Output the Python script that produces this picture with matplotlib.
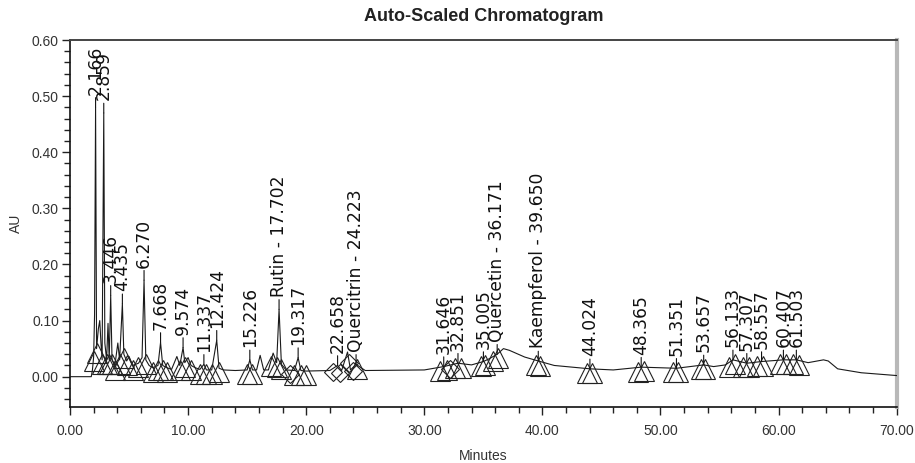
import numpy as np
import matplotlib
matplotlib.use("Agg")
import matplotlib.pyplot as plt
from matplotlib.transforms import offset_copy

# ---- data ----
trace_t = [0.0, 1.80, 1.90, 2.00, 2.08, 2.166, 2.25, 2.40, 2.52, 2.62, 2.72, 2.859, 2.95, 3.10,
           3.22, 3.32, 3.446, 3.56, 3.80, 4.05, 4.20, 4.435, 4.56, 4.80, 5.00, 5.30, 5.80,
           6.10, 6.270, 6.42, 6.70, 7.00, 7.45, 7.668, 7.85, 8.20, 8.60, 9.05, 9.30, 9.574,
           9.72, 10.00, 10.25, 10.60, 11.00, 11.337, 11.55, 12.00, 12.424, 12.62, 13.00,
           14.00, 15.00, 15.226, 15.45, 15.80, 16.10, 16.40, 16.80, 17.20, 17.50, 17.702,
           17.90, 18.30, 19.00, 19.317, 19.55, 20.00, 22.00, 22.658, 23.00, 23.50, 23.75,
           24.223, 25.00, 30.00, 31.646, 32.851, 34.00, 35.005, 35.50, 36.171, 36.70,
           37.20, 38.50, 39.650, 41.00, 44.024, 46.00, 48.365, 51.351, 53.657, 54.50,
           55.50, 56.133, 57.307, 58.557, 60.407, 61.503, 62.50, 63.80, 64.20, 65.00,
           67.00, 70.00]
trace_au = [0.000, 0.000, 0.012, 0.035, 0.110, 0.480, 0.050, 0.085, 0.100, 0.060, 0.030, 0.470, 0.060, 0.030,
            0.095, 0.030, 0.145, 0.030, 0.020, 0.060, 0.030, 0.130, 0.040, 0.028, 0.036, 0.020, 0.024,
            0.034, 0.172, 0.030, 0.020, 0.016, 0.020, 0.061, 0.020, 0.016, 0.013, 0.036, 0.020, 0.052,
            0.025, 0.034, 0.020, 0.016, 0.013, 0.022, 0.012, 0.012, 0.065, 0.015, 0.012,
            0.011, 0.012, 0.030, 0.012, 0.012, 0.038, 0.012, 0.012, 0.042, 0.025, 0.120,
            0.022, 0.012, 0.011, 0.034, 0.011, 0.010, 0.011, 0.020, 0.011, 0.044, 0.012,
            0.022, 0.011, 0.012, 0.018, 0.024, 0.021, 0.027, 0.032, 0.040, 0.050,
            0.047, 0.035, 0.028, 0.020, 0.014, 0.012, 0.017, 0.015, 0.021, 0.018,
            0.021, 0.030, 0.024, 0.027, 0.030, 0.030, 0.025, 0.030, 0.028, 0.014,
            0.007, 0.002]

peak_labels = ["2.166", "2.859", "3.446", "4.435", "6.270", "7.668", "9.574", "11.337",
               "12.424", "15.226", "Rutin - 17.702", "19.317", "22.658", "Quercitrin - 24.223",
               "31.646", "32.851", "35.005", "Quercetin - 36.171", "Kaempferol - 39.650",
               "44.024", "48.365", "51.351", "53.657", "56.133", "57.307", "58.557",
               "60.407", "61.503"]
peak_t = [2.166, 2.859, 3.446, 4.435, 6.270, 7.668, 9.574, 11.337, 12.424, 15.226, 17.702,
          19.317, 22.658, 24.223, 31.646, 32.851, 35.005, 36.171, 39.650, 44.024, 48.365,
          51.351, 53.657, 56.133, 57.307, 58.557, 60.407, 61.503]
peak_au = [0.480, 0.470, 0.145, 0.130, 0.172, 0.061, 0.052, 0.022, 0.065, 0.030, 0.120,
           0.034, 0.020, 0.022, 0.018, 0.024, 0.027, 0.040, 0.028, 0.014, 0.017,
           0.015, 0.021, 0.030, 0.024, 0.027, 0.030, 0.030]

tri_t = [2.00, 2.25, 2.72, 3.10, 3.32, 3.56, 3.80, 4.20, 4.56, 4.80, 5.30, 5.80, 6.42, 7.00,
         7.45, 7.85, 8.20, 9.30, 9.72, 10.25, 11.00, 11.55, 12.00, 12.62, 15.00, 15.45,
         17.00, 17.50, 17.90, 19.00, 19.55, 20.00, 24.30, 31.30, 31.90, 32.60, 33.10, 34.80,
         35.10, 35.80, 36.20, 39.50, 39.80, 43.80, 44.20, 48.10, 48.60, 51.10, 51.50, 53.40,
         53.80, 55.80, 56.30, 57.00, 57.50, 58.20, 58.70, 60.10, 60.60, 61.20, 61.70]
dia_t = [18.60, 22.30, 22.90, 23.60, 24.00, 32.20]

x_ticks = [0, 10, 20, 30, 40, 50, 60, 70]
x_ticklabels = ["0.00", "10.00", "20.00", "30.00", "40.00", "50.00", "60.00", "70.00"]
y_ticks = [0.0, 0.1, 0.2, 0.3, 0.4, 0.5, 0.6]
y_ticklabels = ["0.00", "0.10", "0.20", "0.30", "0.40", "0.50", "0.60"]

# ---- figure ----
fig = plt.figure(figsize=(9.15, 4.63), dpi=100)
ax = fig.add_axes([0.0765, 0.121, 0.9035, 0.7925])
tick_font = "Liberation Sans"

ax.plot(trace_t, trace_au, color="#1a1a1a", lw=0.8, zorder=3)

# start / end markers
tri_y = np.interp(tri_t, trace_t, trace_au)
dia_y = np.interp(dia_t, trace_t, trace_au)
mtrans = offset_copy(ax.transData, fig=fig, y=-3, units="points")
ax.plot(tri_t, tri_y, ls="none", marker="^", ms=14, mfc="none", mec="#222222",
        mew=0.8, transform=mtrans, zorder=4, clip_on=False)
ax.plot(dia_t, dia_y, ls="none", marker="D", ms=9, mfc="none", mec="#222222",
        mew=0.8, transform=mtrans, zorder=4, clip_on=False)

# peak labels
for lab, t, h in zip(peak_labels, peak_t, peak_au):
    ax.annotate(lab, xy=(t, h), xytext=(0, 9), textcoords="offset points",
                rotation=90, ha="center", va="bottom", fontsize=12.3,
                family="DejaVu Sans", color="#111111",
                arrowprops=dict(arrowstyle="-", lw=0.8, color="#111111",
                                shrinkA=0, shrinkB=0), zorder=5)

ax.set_xlim(0, 70)
ax.set_ylim(-0.054, 0.60)
ax.set_xticks(x_ticks)
ax.set_xticklabels(x_ticklabels, family=tick_font, fontsize=10)
ax.set_xticks(np.arange(0, 70.1, 2), minor=True)
ax.set_yticks(y_ticks)
ax.set_yticklabels(y_ticklabels, family=tick_font, fontsize=10)
ax.set_yticks(np.arange(-0.04, 0.601, 0.02), minor=True)
ax.tick_params(axis="both", which="major", direction="out", length=6, width=1, color="#222222",
               labelcolor="#333333")
ax.tick_params(axis="both", which="minor", direction="out", length=4, width=1, color="#222222")
ax.tick_params(axis="x", which="major", pad=6)
ax.tick_params(axis="y", which="major", pad=2)

for s in ["left", "bottom"]:
    ax.spines[s].set_color("#111111")
    ax.spines[s].set_linewidth(1.2)
ax.spines["top"].set_color("#444444")
ax.spines["top"].set_linewidth(1.4)
ax.spines["right"].set_color("#b8b8b8")
ax.spines["right"].set_linewidth(3)

ax.set_xlabel("Minutes", family=tick_font, fontsize=10, color="#333333", labelpad=8)
ax.set_ylabel("AU", family=tick_font, fontsize=10, color="#333333", labelpad=6)
ax.set_title("Auto-Scaled Chromatogram", family=tick_font, fontsize=13, fontweight="bold",
             color="#222222", pad=14)

fig.savefig("out.png", dpi=100)
